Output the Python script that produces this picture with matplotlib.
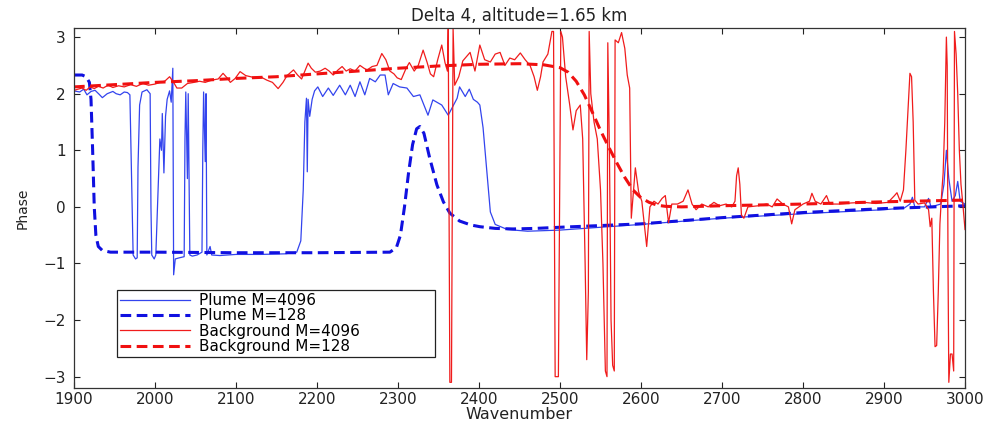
import numpy as np
import matplotlib
matplotlib.use('Agg')
from matplotlib import pyplot as plt

# Phase spectra, (wavenumber, phase) pairs
plume_4096 = [
    (1900, 2.05), (1907, 2.03), (1912, 2.08), (1916, 1.98), (1921, 2.04), (1926, 2.06),
    (1931, 1.99), (1935, 1.93), (1941, 2.0), (1948, 2.04), (1952, 2.0), (1957, 1.98),
    (1962, 2.03), (1966, 2.02), (1969, 1.98), (1971, 0.6), (1973, -0.85), (1976, -0.92),
    (1978, -0.9), (1979, 0.7), (1981, 1.8), (1984, 2.03), (1990, 2.07), (1994, 2.0),
    (1995, 0.0), (1996, -0.85), (1999, -0.92), (2001, -0.85), (2004, 0.4), (2006, 1.2),
    (2008, 1.0), (2009, 1.65), (2011, 0.6), (2013, 1.6), (2015, 1.9), (2018, 2.05),
    (2020, 1.85), (2022, 2.45), (2023, -1.2), (2025, -0.92), (2030, -0.9), (2036, -0.88),
    (2037, 1.2), (2038, 2.03), (2040, 0.5), (2041, 2.0), (2043, -0.85), (2046, -0.87),
    (2052, -0.85), (2058, -0.8), (2059, 1.0), (2060, 2.03), (2062, 0.8), (2063, 2.0),
    (2064, -0.85), (2068, -0.7), (2070, -0.85), (2080, -0.86), (2100, -0.84), (2130, -0.84),
    (2160, -0.83), (2175, -0.8), (2180, -0.6), (2183, 0.3), (2185, 1.5), (2187, 1.92),
    (2188, 0.62), (2189, 1.9), (2191, 1.6), (2194, 1.9), (2197, 2.05), (2201, 2.12),
    (2207, 1.95), (2214, 2.1), (2220, 1.97), (2228, 2.15), (2235, 1.98), (2241, 2.15),
    (2247, 1.95), (2253, 2.21), (2259, 1.98), (2265, 2.27), (2272, 2.21), (2278, 2.33),
    (2284, 2.33), (2288, 1.98), (2294, 2.18), (2302, 2.12), (2311, 2.1), (2319, 1.95),
    (2327, 1.98), (2337, 1.62), (2343, 1.89), (2354, 1.8), (2362, 1.62), (2373, 1.92),
    (2376, 2.12), (2383, 1.95), (2388, 2.08), (2393, 1.9), (2398, 1.85), (2401, 1.8),
    (2405, 1.4), (2410, 0.57), (2414, -0.09), (2420, -0.31), (2435, -0.4), (2460, -0.43),
    (2500, -0.41), (2550, -0.36), (2600, -0.31), (2700, -0.2), (2800, -0.12), (2900, -0.05),
    (2925, -0.02), (2932, 0.05), (2935, 0.17), (2938, 0.0), (2950, 0.0), (2955, 0.15),
    (2958, 0.0), (2970, 0.05), (2974, 0.4), (2977, 1.0), (2980, 0.5), (2984, 0.1),
    (2988, 0.2), (2991, 0.45), (2994, 0.1), (3000, 0.05),
]

plume_128 = [
    (1900, 2.33), (1910, 2.33), (1915, 2.3), (1919, 2.2), (1921, 1.9), (1923, 1.0),
    (1925, 0.0), (1927, -0.5), (1930, -0.7), (1935, -0.77), (1945, -0.8), (2000, -0.8),
    (2100, -0.81), (2200, -0.81), (2290, -0.8), (2298, -0.72), (2303, -0.5), (2308, 0.0),
    (2313, 0.6), (2318, 1.1), (2323, 1.38), (2327, 1.42), (2332, 1.3), (2339, 0.87),
    (2348, 0.39), (2356, 0.09), (2364, -0.11), (2376, -0.25), (2390, -0.32), (2401, -0.35),
    (2420, -0.38), (2442, -0.39), (2470, -0.38), (2500, -0.36), (2600, -0.3), (2700, -0.19),
    (2800, -0.1), (2900, -0.03), (3000, 0.02),
]

background_4096 = [
    (1900, 2.06), (1905, 2.08), (1910, 2.1), (1915, 2.06), (1920, 2.12), (1925, 2.09),
    (1930, 2.13), (1936, 2.1), (1942, 2.15), (1948, 2.11), (1955, 2.14), (1962, 2.12),
    (1970, 2.16), (1977, 2.13), (1985, 2.18), (1992, 2.15), (2000, 2.17), (2006, 2.2),
    (2012, 2.22), (2018, 2.3), (2023, 2.2), (2027, 2.1), (2033, 2.1), (2040, 2.18),
    (2048, 2.2), (2055, 2.22), (2062, 2.2), (2070, 2.24), (2078, 2.26), (2084, 2.36),
    (2089, 2.28), (2093, 2.2), (2099, 2.27), (2105, 2.39), (2112, 2.32), (2121, 2.29),
    (2130, 2.3), (2138, 2.24), (2145, 2.2), (2152, 2.09), (2158, 2.2), (2163, 2.32),
    (2171, 2.42), (2176, 2.33), (2181, 2.26), (2189, 2.54), (2193, 2.45), (2198, 2.38),
    (2204, 2.4), (2210, 2.45), (2215, 2.4), (2220, 2.33), (2226, 2.42), (2231, 2.48),
    (2236, 2.4), (2241, 2.44), (2247, 2.4), (2253, 2.5), (2258, 2.45), (2262, 2.42),
    (2268, 2.48), (2274, 2.5), (2280, 2.71), (2285, 2.6), (2290, 2.4), (2295, 2.35),
    (2299, 2.28), (2304, 2.25), (2310, 2.45), (2314, 2.55), (2320, 2.4), (2325, 2.5),
    (2331, 2.77), (2336, 2.55), (2340, 2.35), (2344, 2.3), (2349, 2.6), (2354, 2.86),
    (2358, 2.55), (2361, 2.4), (2362, 3.15), (2364, -3.1), (2366, -3.1), (2368, 3.15),
    (2370, 2.15), (2375, 2.3), (2380, 2.58), (2389, 2.73), (2395, 2.4), (2401, 2.86),
    (2407, 2.6), (2414, 2.56), (2420, 2.7), (2426, 2.73), (2432, 2.5), (2438, 2.63),
    (2444, 2.6), (2451, 2.72), (2457, 2.6), (2463, 2.5), (2468, 2.3), (2472, 2.06),
    (2476, 2.3), (2479, 2.56), (2485, 2.7), (2490, 3.1), (2492, 3.1), (2494, -3.0),
    (2498, -3.0), (2501, 3.1), (2503, 3.0), (2507, 2.3), (2512, 1.8), (2516, 1.36),
    (2520, 1.7), (2525, 1.8), (2528, 1.2), (2531, -1.0), (2533, -2.7), (2535, -1.5),
    (2536, 3.1), (2538, 2.0), (2542, 1.5), (2546, 1.2), (2550, 0.3), (2553, -1.0),
    (2556, -2.9), (2558, -3.0), (2559, 2.9), (2561, 1.0), (2563, -2.0), (2565, -2.8),
    (2567, -2.9), (2568, 2.95), (2572, 2.9), (2576, 3.08), (2580, 2.8), (2583, 2.33),
    (2586, 2.1), (2588, -0.2), (2590, 0.15), (2593, 0.69), (2597, 0.27), (2601, 0.1),
    (2607, -0.7), (2611, 0.0), (2616, 0.1), (2621, 0.05), (2626, 0.15), (2630, 0.2),
    (2634, -0.28), (2638, 0.05), (2645, 0.05), (2652, 0.1), (2658, 0.3), (2663, 0.05),
    (2668, -0.05), (2675, 0.05), (2683, 0.0), (2690, 0.08), (2697, 0.02), (2705, 0.05),
    (2712, 0.0), (2716, 0.1), (2718, 0.55), (2720, 0.69), (2722, 0.4), (2724, -0.15),
    (2727, -0.2), (2732, 0.0), (2745, 0.02), (2755, 0.05), (2762, 0.0), (2768, 0.14),
    (2775, 0.05), (2782, 0.0), (2786, -0.3), (2790, -0.05), (2800, 0.05), (2808, 0.1),
    (2811, 0.24), (2815, 0.1), (2822, 0.05), (2829, 0.2), (2833, 0.05), (2845, 0.05),
    (2860, 0.07), (2875, 0.08), (2890, 0.06), (2905, 0.08), (2913, 0.2), (2916, 0.25),
    (2920, 0.1), (2924, 0.3), (2927, 1.0), (2930, 1.8), (2932, 2.36), (2934, 2.3),
    (2936, 1.5), (2938, 0.12), (2942, 0.05), (2950, 0.07), (2955, -0.05), (2957, -0.35),
    (2959, -0.2), (2961, -1.5), (2963, -2.47), (2965, -2.45), (2967, -1.5), (2969, -0.3),
    (2971, 0.2), (2973, 0.6), (2975, 1.5), (2977, 3.0), (2978, 2.5), (2979, -1.0),
    (2980, -3.1), (2982, -2.6), (2984, -2.6), (2986, -2.9), (2987, 3.1), (2989, 2.7),
    (2991, 2.0), (2993, 1.0), (2995, 0.4), (2997, 0.1), (3000, -0.4),
]

background_128 = [
    (1900, 2.12), (1950, 2.16), (2000, 2.2), (2050, 2.23), (2100, 2.27), (2150, 2.3),
    (2200, 2.35), (2250, 2.4), (2300, 2.45), (2350, 2.49), (2400, 2.52), (2450, 2.53),
    (2480, 2.51), (2500, 2.46), (2510, 2.38), (2520, 2.22), (2530, 1.98), (2540, 1.67),
    (2550, 1.35), (2560, 1.06), (2570, 0.78), (2580, 0.52), (2590, 0.3), (2600, 0.16),
    (2610, 0.08), (2620, 0.03), (2630, 0.01), (2650, 0.0), (2700, 0.02), (2800, 0.05),
    (2900, 0.09), (3000, 0.12),
]

labels = ['Plume M=4096', 'Plume M=128', 'Background M=4096', 'Background M=128']
x_ticks = list(range(1900, 3001, 100))
y_ticks = [-3, -2, -1, 0, 1, 2, 3]

plt.rcParams['font.family'] = 'DejaVu Sans'

fig = plt.figure(figsize=(9.92, 4.25), dpi=100)
ax = fig.add_axes([0.0746, 0.0871, 0.8982, 0.8469])

styles = [
    dict(color='#3344ee', lw=0.9),
    dict(color='#1010e0', lw=2.2, ls='--', dashes=(3.5, 1.8)),
    dict(color='#f01c1c', lw=0.9),
    dict(color='#f01010', lw=2.2, ls='--', dashes=(3.5, 1.8)),
]
for data, label, style in zip([plume_4096, plume_128, background_4096, background_128], labels, styles):
    x, y = np.array(data).T
    ax.plot(x, y, label=label, **style)

ax.set_xlim(1900, 3000)
ax.set_ylim(-3.2, 3.16)
ax.set_xticks(x_ticks)
ax.set_yticks(y_ticks)
ax.tick_params(direction='in', top=True, right=True, length=4, width=0.8,
               labelsize=11, colors='#222222')
ax.tick_params(axis='x', pad=3)
ax.tick_params(axis='y', pad=6)
for sp in ax.spines.values():
    sp.set_linewidth(0.9)
    sp.set_color('#333333')

ax.set_title('Delta 4, altitude=1.65 km', fontsize=12, pad=5, color='#222222')
ax.set_xlabel('Wavenumber', fontsize=11.5, labelpad=0, color='#222222')
ax.set_ylabel('Phase', fontsize=10, labelpad=10, color='#222222')

leg = ax.legend(loc='lower left', bbox_to_anchor=(0.048, 0.086, 0.357, 0.195), mode='expand',
                borderaxespad=0, fontsize=11, labelspacing=0.02, borderpad=0.2,
                handlelength=4.6, handletextpad=0.6, fancybox=False, framealpha=1)
leg.get_frame().set_edgecolor('#222222')
leg.get_frame().set_linewidth(0.9)

fig.savefig('out.png', dpi=100)
